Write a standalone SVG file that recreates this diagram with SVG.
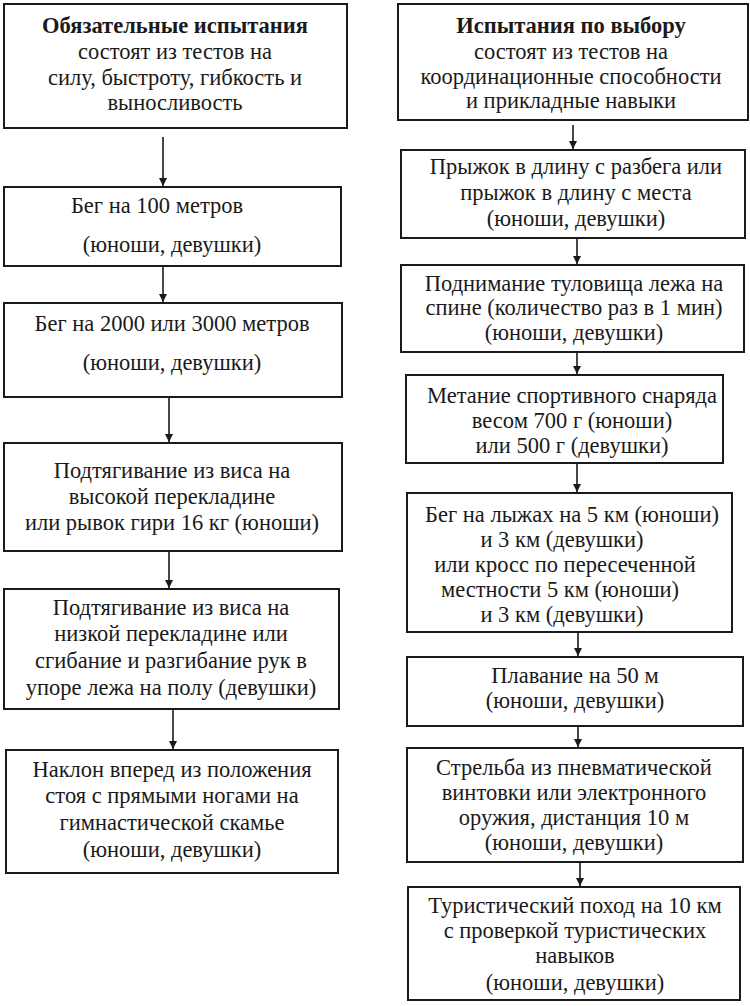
<svg xmlns="http://www.w3.org/2000/svg" width="750" height="1006" viewBox="0 0 750 1006">
<style>
.box{fill:#fff;stroke:#1a1a1a;stroke-width:2}
.t{font-family:'Liberation Serif','Times New Roman','DejaVu Serif',serif;font-size:22.5px;fill:#1a1a1a;text-anchor:middle}
.b{font-weight:bold}
.c{stroke:#1a1a1a;stroke-width:1.6;fill:none;marker-end:url(#ah)}
</style>
<defs>
<marker id="ah" markerWidth="10" markerHeight="10" refX="8" refY="4" orient="auto" markerUnits="userSpaceOnUse">
<path d="M0,0 L8,4 L0,8 Z" fill="#1a1a1a"/>
</marker>
</defs>
<rect width="750" height="1006" fill="#fff"/>
<g id="connectors">
<line class="c" x1="163" y1="137" x2="163" y2="186"/>
<line class="c" x1="163" y1="266" x2="163" y2="302"/>
<line class="c" x1="169" y1="397" x2="169" y2="442"/>
<line class="c" x1="169" y1="551" x2="169" y2="588"/>
<line class="c" x1="173" y1="709" x2="173" y2="749"/>
<line class="c" x1="573" y1="125" x2="573" y2="149"/>
<line class="c" x1="577" y1="238" x2="577" y2="264"/>
<line class="c" x1="577" y1="352" x2="577" y2="374"/>
<line class="c" x1="577" y1="463" x2="577" y2="492"/>
<line class="c" x1="578" y1="632" x2="578" y2="656"/>
<line class="c" x1="578" y1="726" x2="578" y2="747"/>
<line class="c" x1="580" y1="862" x2="580" y2="886"/>
</g>
<g id="L1"><rect class="box" x="4" y="4" width="343" height="124"/>
<text class="t b" x="175" y="33">Обязательные испытания</text>
<text class="t" x="175" y="59">состоят из тестов на</text>
<text class="t" x="175" y="85">силу, быстроту, гибкость и</text>
<text class="t" x="175" y="110">выносливость</text></g>
<g id="L2"><rect class="box" x="4" y="187" width="337" height="79"/>
<text class="t" x="157" y="213">Бег на 100 метров</text>
<text class="t" x="172" y="252">(юноши, девушки)</text></g>
<g id="L3"><rect class="box" x="4" y="303" width="338" height="94"/>
<text class="t" x="172" y="331">Бег на 2000 или 3000 метров</text>
<text class="t" x="172" y="370">(юноши, девушки)</text></g>
<g id="L4"><rect class="box" x="4" y="443" width="338" height="108"/>
<text class="t" x="172" y="478">Подтягивание из виса на</text>
<text class="t" x="172" y="504">высокой перекладине</text>
<text class="t" x="172" y="530">или рывок гири 16 кг (юноши)</text></g>
<g id="L5"><rect class="box" x="4" y="589" width="335" height="120"/>
<text class="t" x="171" y="615">Подтягивание из виса на</text>
<text class="t" x="171" y="641">низкой перекладине или</text>
<text class="t" x="171" y="668">сгибание и разгибание рук в</text>
<text class="t" x="171" y="695">упоре лежа на полу (девушки)</text></g>
<g id="L6"><rect class="box" x="6" y="750" width="332" height="123"/>
<text class="t" x="172" y="777">Наклон вперед из положения</text>
<text class="t" x="172" y="803">стоя с прямыми ногами на</text>
<text class="t" x="172" y="830">гимнастической скамье</text>
<text class="t" x="172" y="857">(юноши, девушки)</text></g>
<g id="R1"><rect class="box" x="398" y="4" width="350" height="116"/>
<text class="t b" x="571" y="33">Испытания по выбору</text>
<text class="t" x="571" y="59">состоят из тестов на</text>
<text class="t" x="571" y="84">координационные способности</text>
<text class="t" x="571" y="108">и прикладные навыки</text></g>
<g id="R2"><rect class="box" x="401" y="150" width="344" height="88"/>
<text class="t" x="576" y="174">Прыжок в длину с разбега или</text>
<text class="t" x="576" y="200">прыжок в длину с места</text>
<text class="t" x="576" y="226">(юноши, девушки)</text></g>
<g id="R3"><rect class="box" x="401" y="265" width="343" height="87"/>
<text class="t" x="574" y="291">Поднимание туловища лежа на</text>
<text class="t" x="574" y="315">спине (количество раз в 1 мин)</text>
<text class="t" x="574" y="340">(юноши, девушки)</text></g>
<g id="R4"><rect class="box" x="406" y="375" width="317" height="88"/>
<text class="t" x="572" y="403">Метание спортивного снаряда</text>
<text class="t" x="572" y="428">весом 700 г (юноши)</text>
<text class="t" x="572" y="453">или 500 г (девушки)</text></g>
<g id="R5"><rect class="box" x="407" y="493" width="325" height="139"/>
<text class="t" x="572" y="522">Бег на лыжах на 5 км (юноши)</text>
<text class="t" x="562" y="547">и 3 км (девушки)</text>
<text class="t" x="565" y="572">или кросс по пересеченной</text>
<text class="t" x="560" y="597">местности 5 км (юноши)</text>
<text class="t" x="562" y="622">и 3 км (девушки)</text></g>
<g id="R6"><rect class="box" x="407" y="657" width="336" height="69"/>
<text class="t" x="575" y="683">Плавание на 50 м</text>
<text class="t" x="575" y="708">(юноши, девушки)</text></g>
<g id="R7"><rect class="box" x="407" y="748" width="336" height="114"/>
<text class="t" x="574" y="775">Стрельба из пневматической</text>
<text class="t" x="574" y="800">винтовки или электронного</text>
<text class="t" x="574" y="825">оружия, дистанция 10 м</text>
<text class="t" x="574" y="850">(юноши, девушки)</text></g>
<g id="R8"><rect class="box" x="408" y="887" width="332" height="113"/>
<text class="t" x="575" y="913">Туристический поход на 10 км</text>
<text class="t" x="575" y="938">с проверкой туристических</text>
<text class="t" x="575" y="963">навыков</text>
<text class="t" x="575" y="990">(юноши, девушки)</text></g>
</svg>
